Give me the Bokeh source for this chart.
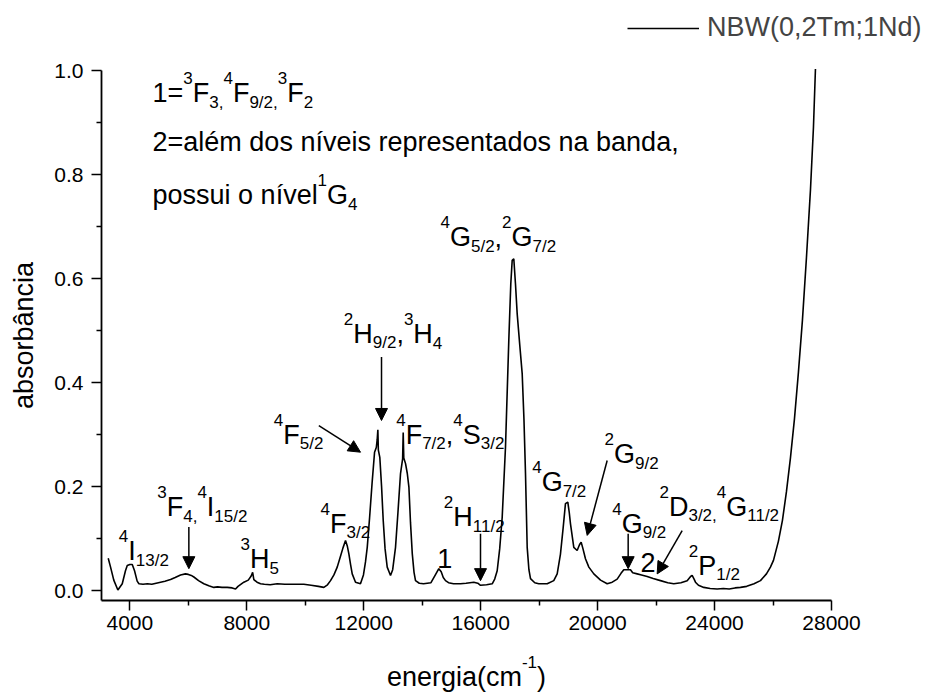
from bokeh.plotting import figure
from bokeh.models import (Label, Arrow, NormalHead, FixedTicker, PrintfTickFormatter,
                          Range1d, Legend, LegendItem)
from bokeh.embed import file_html
from bokeh.resources import INLINE

# ---------------- data ----------------
energy = [3260, 3340, 3450, 3590, 3740, 3850, 3911, 4000, 4082, 4160, 4250, 4310, 4450, 4600,
          4750, 4900, 5050, 5200, 5392, 5550, 5734, 5900, 6000, 6100, 6190, 6350, 6531, 6700,
          6873, 7000, 7150, 7331, 7500, 7615, 7700, 7899, 8050, 8150, 8200, 8241, 8350, 8470,
          8600, 8800, 9041, 9300, 9609, 9951, 10200, 10450, 10635, 10760, 10864, 10980, 11093,
          11200, 11290, 11377, 11440, 11490, 11550, 11606, 11719, 11888, 11990, 12060, 12120,
          12200, 12290, 12370, 12430, 12460, 12483, 12500, 12550, 12610, 12666, 12730, 12803,
          12916, 12990, 13087, 13170, 13258, 13330, 13350, 13370, 13430, 13490, 13545, 13600,
          13660, 13720, 13771, 13900, 14045, 14300, 14450, 14568, 14650, 14720, 14797, 14900,
          15070, 15310, 15500, 15765, 15900, 15994, 16200, 16394, 16480, 16565, 16650, 16736,
          16849, 16962, 17030, 17078, 17133, 17190, 17249, 17340, 17420, 17480, 17533, 17591,
          17650, 17704, 17850, 17988, 18275, 18500, 18617, 18729, 18820, 18900, 18980, 19030,
          19072, 19185, 19300, 19380, 19437, 19500, 19584, 19700, 19870, 20100, 20327, 20500,
          20669, 20800, 20895, 21124, 21200, 21353, 21500, 21695, 21900, 22150, 22400, 22605,
          22850, 23063, 23180, 23234, 23300, 23347, 23450, 23631, 23850, 24089, 24300, 24500,
          24700, 24886, 25100, 25350, 25570, 25775, 25911, 26015, 26185, 26322, 26459, 26596,
          26733, 26869, 27006, 27143, 27280, 27382, 27451]
absorbance = [0.062, 0.045, 0.020, 0.001, 0.013, 0.038, 0.048, 0.050, 0.050, 0.038, 0.018, 0.013,
              0.012, 0.013, 0.012, 0.014, 0.016, 0.018, 0.021, 0.025, 0.030, 0.032, 0.031, 0.029,
              0.026, 0.019, 0.013, 0.009, 0.006, 0.007, 0.006, 0.006, 0.005, 0.003, 0.008, 0.016,
              0.020, 0.028, 0.035, 0.021, 0.016, 0.013, 0.012, 0.011, 0.013, 0.012, 0.012, 0.012,
              0.010, 0.008, 0.006, 0.011, 0.019, 0.030, 0.045, 0.065, 0.082, 0.096, 0.085, 0.071,
              0.050, 0.032, 0.016, 0.013, 0.030, 0.055, 0.083, 0.140, 0.210, 0.266, 0.275, 0.290,
              0.309, 0.270, 0.256, 0.200, 0.135, 0.080, 0.045, 0.029, 0.040, 0.083, 0.150, 0.225,
              0.253, 0.304, 0.255, 0.244, 0.225, 0.199, 0.130, 0.071, 0.035, 0.019, 0.014, 0.013,
              0.015, 0.030, 0.042, 0.036, 0.025, 0.019, 0.015, 0.013, 0.013, 0.014, 0.016, 0.014,
              0.010, 0.011, 0.013, 0.022, 0.038, 0.080, 0.141, 0.276, 0.481, 0.590, 0.635, 0.638,
              0.590, 0.532, 0.470, 0.417, 0.330, 0.225, 0.083, 0.040, 0.023, 0.015, 0.013, 0.013,
              0.019, 0.032, 0.070, 0.120, 0.167, 0.170, 0.150, 0.128, 0.083, 0.077, 0.088, 0.093,
              0.080, 0.061, 0.045, 0.032, 0.020, 0.013, 0.016, 0.022, 0.033, 0.040, 0.040, 0.034,
              0.032, 0.030, 0.027, 0.023, 0.019, 0.015, 0.013, 0.015, 0.019, 0.027, 0.029, 0.022,
              0.016, 0.010, 0.006, 0.004, 0.003, 0.004, 0.003, 0.005, 0.006, 0.008, 0.013, 0.019,
              0.032, 0.045, 0.058, 0.095, 0.135, 0.190, 0.255, 0.330, 0.420, 0.520, 0.640, 0.770,
              0.890, 1.003]
series_name = "NBW(0,2Tm;1Nd)"

x_major_ticks = [4000, 8000, 12000, 16000, 20000, 24000, 28000]
x_minor_ticks = [6000, 10000, 14000, 18000, 22000, 26000]
y_major_ticks = [0.0, 0.2, 0.4, 0.6, 0.8, 1.0]
y_minor_ticks = [0.1, 0.3, 0.5, 0.7, 0.9]
x_axis_span = (3030, 28000)
y_axis_span = (-0.0192, 1.0)

# level labels: (x, y of main baseline-left, segments); kind: n=normal, sup, sub
level_labels = [
    (3624, 0.0756, [("4", "sup"), ("I", "n"), ("13/2", "sub")]),
    (4937, 0.160, [("3", "sup"), ("F", "n"), ("4,", "sub"), ("4", "sup"), ("I", "n"), ("15/2", "sub")]),
    (7786, 0.061, [("3", "sup"), ("H", "n"), ("5", "sub")]),
    (10522, 0.128, [("4", "sup"), ("F", "n"), ("3/2", "sub")]),
    (8925, 0.300, [("4", "sup"), ("F", "n"), ("5/2", "sub")]),
    (11319, 0.494, [("2", "sup"), ("H", "n"), ("9/2", "sub"), (",", "n"), ("3", "sup"), ("H", "n"), ("4", "sub")]),
    (13111, 0.300, [("4", "sup"), ("F", "n"), ("7/2", "sub"), (",", "n"), ("4", "sup"), ("S", "n"), ("3/2", "sub")]),
    (14626, 0.679, [("4", "sup"), ("G", "n"), ("5/2", "sub"), (",", "n"), ("2", "sup"), ("G", "n"), ("7/2", "sub")]),
    (14739, 0.141, [("2", "sup"), ("H", "n"), ("11/2", "sub")]),
    (14513, 0.061, [("1", "n")]),
    (17762, 0.208, [("4", "sup"), ("G", "n"), ("7/2", "sub")]),
    (20235, 0.262, [("2", "sup"), ("G", "n"), ("9/2", "sub")]),
    (20498, 0.128, [("4", "sup"), ("G", "n"), ("9/2", "sub")]),
    (21466, 0.054, [("2", "n")]),
    (22116, 0.1615, [("2", "sup"), ("D", "n"), ("3/2,", "sub"), ("4", "sup"), ("G", "n"), ("11/2", "sub")]),
    (23118, 0.048, [("2", "sup"), ("P", "n"), ("1/2", "sub")]),
]
note_lines = [
    (4776, 0.956, [("1=", "n"), ("3", "sup"), ("F", "n"), ("3,", "sub"), ("4", "sup"), ("F", "n"),
                   ("9/2,", "sub"), ("3", "sup"), ("F", "n"), ("2", "sub")]),
    (4776, 0.863, [("2=além dos níveis representados na banda,", "n")]),
    (4776, 0.760, [("possui o nível", "n"), ("1", "sup"), ("G", "n"), ("4", "sub")]),
]
arrows = [
    (6018, 0.122, 6018, 0.042),
    (10464, 0.317, 11890, 0.266),
    (12608, 0.449, 12608, 0.327),
    (15994, 0.109, 15994, 0.019),
    (20327, 0.250, 19643, 0.106),
    (21045, 0.109, 21045, 0.042),
    (22892, 0.115, 22037, 0.032),
]
x_title = [("energia(cm", "n"), ("-1", "sup"), (")", "n")]
x_title_y = -0.166

FONT = "Liberation Sans"
MAIN = 27
SMALL = 17
SUP_UP = 15
SUB_DOWN = 9

W = {' ': .278, ',': .278, '.': .278, '/': .278, '=': .584, '-': .333, '(': .333, ')': .333,
     ';': .278, 'B': .667, 'D': .722, 'F': .611, 'G': .778, 'H': .722, 'I': .278, 'N': .722,
     'P': .667, 'S': .667, 'T': .611, 'W': .944, 'a': .556, 'b': .556, 'c': .5, 'd': .556,
     'e': .556, 'g': .556, 'i': .222, 'l': .222, 'm': .833, 'n': .556, 'o': .556, 'p': .556,
     'r': .333, 's': .5, 't': .278, 'u': .556, 'v': .5, 'é': .556, 'í': .278, 'â': .556}


def text_w(s, size):
    return sum(W.get(c, 0.556) for c in s) * size


def add_rich(p, x, y, segs, main=MAIN, small=SMALL, dx0=0.0):
    dx = dx0
    for txt, kind in segs:
        size = main if kind == "n" else small
        dy = 0 if kind == "n" else (SUP_UP if kind == "sup" else -SUB_DOWN)
        p.add_layout(Label(x=x, y=y, x_offset=dx, y_offset=dy, text=txt, text_font=FONT,
                           text_font_size=f"{size}px", text_baseline="alphabetic",
                           text_align="left", text_color="black"))
        dx += text_w(txt, size)
    return dx


# frame covers the whole canvas; axes are pinned at the edges of the data box
PX_X = (x_axis_span[1] - x_axis_span[0]) / 730.0
PX_Y = (y_axis_span[1] - y_axis_span[0]) / 530.0
x_range = Range1d(x_axis_span[0] - 101 * PX_X, x_axis_span[1] + 107 * PX_X)
y_range = Range1d(y_axis_span[0] - 95 * PX_Y, y_axis_span[1] + 70 * PX_Y)

p = figure(width=938, height=695, output_backend="svg", toolbar_location=None,
           x_range=x_range, y_range=y_range, min_border=0,
           min_border_left=0, min_border_right=0, min_border_top=0, min_border_bottom=0)
p.outline_line_color = None
p.xgrid.visible = False
p.ygrid.visible = False
p.background_fill_color = "white"
p.border_fill_color = "white"

curve = p.line(energy, absorbance, line_color="black", line_width=1.6)

xa, ya = p.xaxis[0], p.yaxis[0]
xa.fixed_location = y_axis_span[0]
ya.fixed_location = x_axis_span[0]
xa.bounds = x_axis_span
ya.bounds = y_axis_span
for ax, maj, mnr in ((xa, x_major_ticks, x_minor_ticks), (ya, y_major_ticks, y_minor_ticks)):
    ax.ticker = FixedTicker(ticks=maj, minor_ticks=mnr)
    ax.axis_line_width = 1.8
    ax.major_tick_line_width = 1.5
    ax.minor_tick_line_width = 1.5
    ax.major_tick_out = 10
    ax.major_tick_in = 0
    ax.minor_tick_out = 5
    ax.minor_tick_in = 0
    ax.major_label_text_font = FONT
    ax.major_label_text_font_size = "21px"
    ax.major_label_text_color = "black"
    ax.axis_line_color = "black"
    ax.major_tick_line_color = "black"
    ax.minor_tick_line_color = "black"

xa.major_label_standoff = 5
ya.major_label_standoff = 8
ya.formatter = PrintfTickFormatter(format="%.1f")
ya.axis_label = "absorbância"
ya.axis_label_text_font = FONT
ya.axis_label_text_font_size = "27px"
ya.axis_label_text_font_style = "normal"
ya.axis_label_text_color = "black"
ya.axis_label_standoff = 12

# x-axis title with superscript, centered under the axis
xt_w = sum(text_w(t, MAIN if k == "n" else SMALL) for t, k in x_title)
add_rich(p, (x_axis_span[0] + x_axis_span[1]) / 2, x_title_y, x_title, dx0=-xt_w / 2)

for x, y, segs in level_labels:
    add_rich(p, x, y, segs)
for x, y, segs in note_lines:
    add_rich(p, x, y, segs)

for x0, y0, x1, y1 in arrows:
    p.add_layout(Arrow(x_start=x0, y_start=y0, x_end=x1, y_end=y1, line_width=1.5,
                       line_color="black",
                       end=NormalHead(size=12, fill_color="black", line_color="black", line_width=1)))

legend = Legend(items=[LegendItem(label=series_name, renderers=[curve])],
                location=(627, 652), padding=0, margin=0, spacing=0,
                glyph_width=72, glyph_height=20, label_standoff=8,
                label_text_font=FONT, label_text_font_size="27px",
                border_line_color=None, background_fill_alpha=0)
p.add_layout(legend, "center")

open("out.html", "w").write(file_html(p, INLINE))
